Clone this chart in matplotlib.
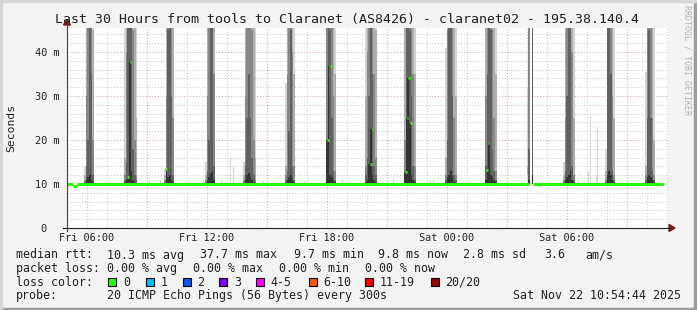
import matplotlib
matplotlib.use("Agg")
import matplotlib.pyplot as plt
from matplotlib.lines import Line2D
from matplotlib.patches import Rectangle, Polygon

# --- データ ---
title = "Last 30 Hours from tools to Claranet (AS8426) - claranet02 - 195.38.140.4"

# x は金曜 00:00 からの時間 (h)
tick_hours = [6, 12, 18, 24, 30]
tick_labels = ["Fri 06:00", "Fri 12:00", "Fri 18:00", "Sat 00:00", "Sat 06:00"]
ytick_vals = [0, 10, 20, 30, 40]
ytick_labels = ["0  ", "10 m", "20 m", "30 m", "40 m"]

# スモーク帯: 開始時刻と 5 分ごとの列（外側→内側の上端 ms, 50 = 枠外）
band_start = [5.85, 7.85, 9.85, 11.9, 13.8, 15.9, 17.95, 19.9,
              21.85, 23.9, 25.9, 27.98, 29.8, 31.9, 33.9]
band_cols = [
    [[14, 12, 11, 10.5, 10.2], [50, 50, 30, 14, 11], [50, 50, 50, 20, 11.5],
     [50, 50, 50, 50, 12], [50, 50, 50, 35, 11], [50, 45, 20, 12, 10.5]],
    [[50, 16, 12, 11, 10.5], [50, 50, 40, 15, 11], [50, 50, 50, 50, 11.6],
     [50, 50, 50, 50, 37.7], [50, 50, 50, 50, 13], [50, 50, 45, 18, 11],
     [50, 50, 20, 12, 10.5], [50, 25, 12, 11, 10.3]],
    [[13.5, 12, 11, 10.5, 10.2], [50, 50, 30, 13.4, 13.4], [50, 50, 50, 45, 11.5],
     [50, 50, 50, 50, 12], [50, 50, 50, 30, 11], [50, 50, 25, 12, 10.5]],
    [[15, 12, 11, 10.5, 10.2], [50, 50, 30, 13, 11], [50, 50, 50, 20, 11.5],
     [50, 50, 50, 50, 12.5], [50, 50, 50, 50, 13], [50, 50, 35, 14, 11]],
    [[15, 12, 11, 10.5, 10.2], [50, 50, 30, 14, 11], [50, 50, 50, 25, 12],
     [50, 50, 50, 35, 12.5], [50, 50, 50, 25, 11.5], [50, 50, 45, 16, 11],
     [50, 50, 20, 12, 10.5], [50, 16, 11, 10.5, 10.2]],
    [[33, 14, 12, 11, 10.3], [50, 50, 35, 13, 11], [50, 50, 50, 22, 11.5],
     [50, 50, 50, 45, 12], [50, 50, 40, 14, 11], [50, 35, 14, 11, 10.5]],
    [[50, 50, 50, 20, 20], [50, 50, 50, 50, 36.8], [50, 50, 50, 45, 12],
     [50, 50, 50, 25, 11.5], [50, 50, 30, 13, 11], [50, 35, 13, 11, 10.5]],
    [[50, 30, 14, 12, 10.5], [50, 50, 40, 16, 11], [50, 50, 50, 30, 14.5],
     [50, 50, 50, 50, 22.6], [50, 50, 50, 35, 12], [50, 50, 35, 14, 11],
     [50, 45, 16, 12, 10.5]],
    [[50, 50, 20, 12.8, 12.8], [50, 50, 50, 50, 25], [50, 50, 50, 50, 34.1],
     [50, 50, 50, 45, 23.9], [50, 50, 50, 30, 12], [50, 50, 35, 14, 11],
     [50, 35, 14, 11, 10.5]],
    [[41, 16, 12, 11, 10.3], [50, 50, 45, 20, 11.5], [50, 50, 50, 50, 12],
     [50, 50, 50, 50, 13], [50, 50, 50, 30, 11.5], [50, 50, 25, 12, 10.5],
     [50, 30, 12, 11, 10.3]],
    [[50, 50, 30, 14, 11], [50, 50, 50, 35, 13.2], [50, 50, 50, 50, 19.4],
     [50, 50, 50, 45, 12], [50, 50, 45, 18, 11.5], [50, 50, 25, 13, 11],
     [50, 35, 13, 11, 10.5]],
    [[32, 14, 12, 11, 10.3], [50, 50, 50, 18, 11], None, [50, 50, 50, 50, 12]],
    [[15, 12, 11, 10.5, 10.2], [50, 50, 25, 13, 11], [50, 50, 50, 30, 11.5],
     [50, 50, 50, 50, 12], [50, 50, 50, 50, 13], [50, 50, 40, 14, 11],
     [50, 25, 12, 11, 10.5]],
    [[18, 13, 11, 10.5, 10.2], [50, 50, 50, 50, 12], [50, 50, 50, 50, 13],
     [50, 50, 50, 35, 12], [50, 50, 30, 13, 11], [50, 25, 12, 11, 10.5]],
    [[35.5, 14, 12, 11, 10.3], [50, 50, 50, 25, 11.5], [50, 50, 50, 45, 12],
     [50, 50, 50, 25, 11.5], [50, 50, 25, 13, 11], [50, 20, 12, 11, 10.5]],
]

# 帯の外にある小さな外れ値
spike_hours = [9.1, 9.65, 11.8, 12.7, 13.18, 13.3, 14.8, 15.3, 16.85, 18.75,
               21.3, 23.15, 23.3, 28.0, 30.55, 31.05, 31.15, 31.45, 31.5]
spike_tops = [10.7, 11.0, 11.0, 10.8, 16.0, 14.0, 10.6, 10.6, 10.6, 11.0,
              11.1, 10.7, 10.8, 12.0, 11.0, 12.7, 25.5, 12.0, 23.0]

# メディアン（区間）: 開始, 終了, 値
median_start = [5.0, 5.29, 5.52, 28.32]
median_end = [5.29, 5.52, 28.12, 34.85]
median_vals = [10.0, 9.5, 10.0, 10.0]
# メディアンの跳ね上がり
median_spike_hours = [8.05, 8.175, 9.95, 18.05, 18.2, 20.2, 20.28,
                      21.95, 22.03, 22.1, 22.2, 26.0, 26.08]
median_spike_vals = [11.6, 37.7, 13.4, 20.0, 36.8, 14.5, 22.6,
                     12.8, 25.0, 34.1, 23.9, 13.2, 19.4]

rtt_label = "median rtt:"
rtt_items = ["10.3 ms avg", "37.7 ms max", "9.7 ms min", "9.8 ms now",
             "2.8 ms sd", "3.6", "am/s"]
loss_label = "packet loss:"
loss_items = ["0.00 % avg", "0.00 % max", "0.00 % min", "0.00 % now"]
loss_labels = ["0", "1", "2", "3", "4-5", "6-10", "11-19", "20/20"]
loss_colors = ["#26ff00", "#00b8ff", "#0059ff", "#7e00ff",
               "#ff00ff", "#ff5500", "#ff0000", "#a10000"]
probe_text = "20 ICMP Echo Pings (56 Bytes) every 300s"
stamp_text = "Sat Nov 22 10:54:44 2025"

# --- レイアウト ---
W, H = 697, 310
STEP = 5 / 60  # 5 分
SMOKE_BASE = 9.9
SHADES = ["#d3d3d3", "#adadad", "#878787", "#616161", "#333333"]
MONO = "DejaVu Sans Mono"
TXT = "#202020"

fig = plt.figure(figsize=(W / 100, H / 100), dpi=100)
fig.patch.set_facecolor("#f3f3f3")


def fx(x):
    return x / W


def fy(y):
    return 1 - y / H


ax = fig.add_axes([fx(67), fy(228), 601 / W, 200 / H])
ax.set_xlim(5.0, 35.05)
ax.set_ylim(0, 45.45)
ax.set_facecolor("white")
for s in ax.spines.values():
    s.set_visible(False)

# グリッド（細: 2ms / 1h、太: 10ms / 3h）
for v in range(2, 46, 2):
    c = "#e9a0a0" if v % 10 == 0 else "#c4c4c4"
    ax.axhline(v, color=c, lw=0.7, ls=(0, (1, 2)), zorder=1)
for h in range(6, 36):
    c = "#e9a0a0" if h % 3 == 0 else "#c4c4c4"
    ax.axvline(h, color=c, lw=0.7, ls=(0, (1, 2)), zorder=1)

# スモーク
for start, cols in zip(band_start, band_cols):
    for ci, col in enumerate(cols):
        if col is None:
            continue
        x = start + ci * STEP
        for level, top in enumerate(col):
            ax.bar(x, top - SMOKE_BASE, bottom=SMOKE_BASE, width=STEP, align="edge",
                   color=SHADES[level], linewidth=0, antialiased=False, zorder=2)

ax.bar(spike_hours, [t - SMOKE_BASE for t in spike_tops], bottom=SMOKE_BASE,
       width=STEP * 0.6, color="#d4d4d4", linewidth=0, antialiased=False, zorder=2)

# メディアン
ax.hlines(median_vals, median_start, median_end, colors="#26ff00", lw=2.2, zorder=3)
ax.hlines(median_spike_vals, [h - STEP / 2 for h in median_spike_hours],
          [h + STEP / 2 for h in median_spike_hours], colors="#26ff00", lw=2.0, zorder=3)

# 目盛
ax.set_xticks(tick_hours, tick_labels)
ax.set_yticks(ytick_vals, ytick_labels)
ax.tick_params(length=0, labelsize=7.4, colors=TXT)
ax.tick_params(axis="x", pad=3.5)
ax.tick_params(axis="y", pad=5.4)
for lab in ax.get_xticklabels() + ax.get_yticklabels():
    lab.set_family(MONO)

# 軸線と矢印
fig.add_artist(Line2D([fx(63), fx(670)], [fy(228), fy(228)], color=TXT, lw=0.8))
fig.add_artist(Line2D([fx(67), fx(67)], [fy(231), fy(24)], color="#404040", lw=0.8))
fig.add_artist(Polygon([(fx(669), fy(224.5)), (fx(669), fy(231.5)), (fx(675), fy(228))],
                       closed=True, color="#7f1818", transform=fig.transFigure))
fig.add_artist(Polygon([(fx(63.5), fy(25)), (fx(70.5), fy(25)), (fx(67), fy(19.5))],
                       closed=True, color="#7f1818", transform=fig.transFigure))

# テキスト
fig.text(fx(347), fy(19), title, ha="center", va="center", fontsize=9.5,
         family=MONO, color=TXT)
fig.text(fx(11), fy(128), "Seconds", rotation=90, ha="center", va="center",
         fontsize=8.2, family=MONO, color=TXT)
fig.text(fx(687), fy(60), "RRDTOOL / TOBI OETIKER", rotation=-90, ha="center",
         va="center", fontsize=6.0, family=MONO, color="#b4b4b4")

row_y = [255, 268.5, 282.3, 295.5]
rtt_x = [107, 200, 294, 378, 463, 544, 585]
loss_x = [107, 193, 279, 365]
box_x = [108, 145.5, 182.5, 219, 255.5, 308.5, 365, 430.5]
fs = 8.4


def legend_text(x, y, t):
    fig.text(fx(x), fy(y), t, ha="left", va="center", fontsize=fs, family=MONO, color=TXT)


legend_text(16, row_y[0], rtt_label)
for x, t in zip(rtt_x, rtt_items):
    legend_text(x, row_y[0], t)
legend_text(16, row_y[1], loss_label)
for x, t in zip(loss_x, loss_items):
    legend_text(x, row_y[1], t)
legend_text(16, row_y[2], "loss color:")
for x, lab, c in zip(box_x, loss_labels, loss_colors):
    fig.add_artist(Rectangle((fx(x), fy(row_y[2] + 4)), 8 / W, 8 / H, facecolor=c,
                             edgecolor="black", lw=0.8, transform=fig.transFigure))
    legend_text(x + 15, row_y[2], lab)
legend_text(16, row_y[3], "probe:")
legend_text(107, row_y[3], probe_text)
legend_text(513, row_y[3], stamp_text)

# 外枠（立体風）
fig.add_artist(Rectangle((0, 0), 1, 2 / H, color="#9c9c9c", transform=fig.transFigure))
fig.add_artist(Rectangle((1 - 3 / W, 0), 3 / W, 1, color="#9c9c9c", transform=fig.transFigure))
fig.add_artist(Rectangle((0, 1 - 2 / H), 1, 2 / H, color="#d6d6d6", transform=fig.transFigure))
fig.add_artist(Rectangle((0, 0), 2 / W, 1, color="#d6d6d6", transform=fig.transFigure))

fig.savefig("out.png", dpi=100, facecolor=fig.get_facecolor())
